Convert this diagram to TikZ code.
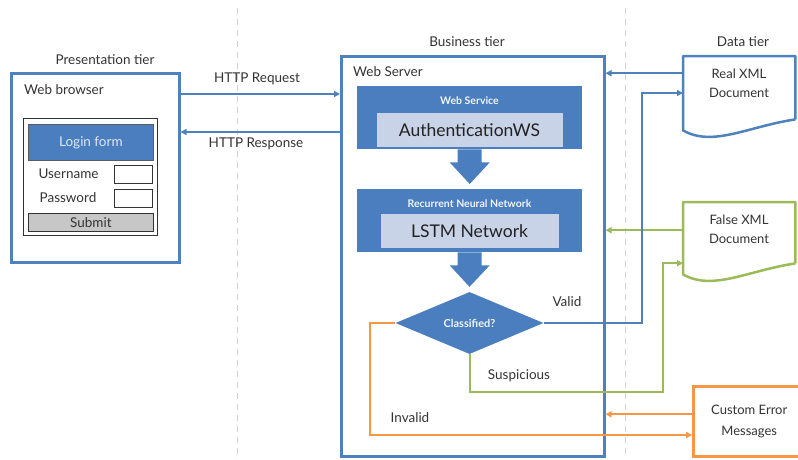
\documentclass[tikz,border=0pt]{standalone}
\usepackage{fontspec}
\setmainfont{Lato}
\usetikzlibrary{arrows.meta,shapes.geometric,calc}
\definecolor{oblue}{HTML}{4F81BD}
\definecolor{boxblue}{HTML}{4A7EBF}
\definecolor{paleblue}{HTML}{C8D3E8}
\definecolor{ogreen}{HTML}{9BBB59}
\definecolor{oorange}{HTML}{F79646}
\definecolor{txt}{HTML}{333333}
\definecolor{darktxt}{HTML}{222222}

% downward block arrow between two stacked nodes
\newcommand\blockdown[2]{%
  \fill[boxblue] ($(#1.south)+(-12,0)$) -- ($(#1.south)+(-12,13)$)
    -- ($(#1.south)+(-20,13)$) -- ($(#2.north)+(0,-5)$)
    -- ($(#1.south)+(20,13)$) -- ($(#1.south)+(12,13)$)
    -- ($(#1.south)+(12,0)$) -- cycle;}

% flowchart "document" outline drawn around a named node
\newcommand\docoutline[2]{%
  \draw[#2, line width=2.5pt, line join=round]
    ($(#1.south east)+(0,-11)$) -- (#1.north east) -- (#1.north west)
    -- (#1.south west) .. controls ($(#1.south west)+(30,17)$)
    and ($(#1.south west)+(65,-4)$) .. ($(#1.south east)+(0,-11)$);}

\begin{document}
\begin{tikzpicture}[x=1pt,y=-1pt,
  every node/.style={text=txt, font=\fontsize{13.5}{16}\selectfont},
  frame/.style={draw=oblue, line width=2.5pt, inner sep=0pt, anchor=north west},
  panel/.style={fill=boxblue, inner sep=0pt, anchor=north west},
  inner/.style={fill=paleblue, inner sep=0pt, text=darktxt,
    font=\fontsize{17.5}{20}\selectfont},
  caption/.style={text=white!92!boxblue, font=\fontsize{10.5}{12}\selectfont\bfseries},
  field/.style={draw=txt, line width=0.8pt, fill=white, inner sep=0pt, anchor=north west,
    minimum width=38, minimum height=18},
  tip/.style={-{Triangle[length=6pt,width=6pt]}},
  blueline/.style={draw=oblue, line width=2pt},
  greenline/.style={draw=ogreen, line width=2pt},
  orangeline/.style={draw=oorange, line width=2pt},
  tierline/.style={draw=black!18, line width=1pt, dash pattern=on 6pt off 5pt}]
\useasboundingbox (0,0) rectangle (798,459);

% tier separators
\draw[tierline] (237,8) -- (237,459);
\draw[tierline] (625,8) -- (625,459);

% tier titles
\node (ptier) at (105,60) {Presentation tier};
\node (btier) at (467,42) {Business tier};
\node (dtier) at (743,42) {Data tier};

% presentation tier: web browser with login form
\node[frame, minimum width=168, minimum height=189] (browser) at (10,72) {};
\node[anchor=west, inner sep=0pt] (browserlbl) at (24,90) {Web browser};
\node[draw=txt, line width=1pt, inner sep=0pt, anchor=north west,
  minimum width=134, minimum height=117] (form) at (23,118) {};
\node[panel, draw=txt!80, line width=0.8pt, minimum width=125, minimum height=36,
  text=paleblue!55!white] (login) at (28,124) {Login form};
\node (userlbl) at (68.5,174) {Username};
\node[field] (userbox) at (114,165) {};
\node (passlbl) at (68,198) {Password};
\node[field] (passbox) at (114,189) {};
\node[draw=txt, line width=0.8pt, fill=black!22, inner sep=0pt, anchor=north west,
  minimum width=125, minimum height=18] (submit) at (28,213) {Submit};

% business tier: web server
\node[frame, minimum width=263, minimum height=400] (server) at (340,55) {};
\node[anchor=west, inner sep=0pt] (serverlbl) at (353,72) {Web Server};

\node[panel, minimum width=225, minimum height=63] (ws) at (357,86) {};
\node[caption] (wslbl) at (469.5,101) {Web Service};
\node[inner, minimum width=186, minimum height=34] (auth) at (469.5,130) {AuthenticationWS};

\node[panel, minimum width=225, minimum height=63] (rnn) at (357,189) {};
\node[caption] (rnnlbl) at (469.5,204) {Recurrent Neural Network};
\node[inner, minimum width=178, minimum height=34] (lstm) at (469.5,231) {LSTM Network};

\node[diamond, fill=boxblue, inner sep=0pt, aspect=2.39, minimum width=148,
  minimum height=62] (dia) at (469.5,323) {};
\node[caption, font=\fontsize{11}{12}\selectfont\bfseries] (dialbl) at (dia) {Classified?};

\blockdown{ws}{rnn}
\blockdown{rnn}{dia}

% data tier documents
\node[inner sep=0pt, anchor=north west, minimum width=112, minimum height=74] (realdoc) at (683,56) {};
\node[align=center, font=\fontsize{13}{19}\selectfont] (realtxt) at (739,83) {Real XML\\Document};
\docoutline{realdoc}{oblue}

\node[inner sep=0pt, anchor=north west, minimum width=112, minimum height=72] (falsedoc) at (683,202) {};
\node[align=center, font=\fontsize{13}{19}\selectfont] (falsetxt) at (739,229) {False XML\\Document};
\docoutline{falsedoc}{ogreen}

\node[draw=oorange, line width=2.5pt, inner sep=0pt, anchor=north west,
  minimum width=112, minimum height=70, align=center,
  font=\fontsize{13}{21}\selectfont] (err) at (692,385) {Custom Error\\Messages};

% HTTP exchange
\coordinate (reqy) at (0,94);
\coordinate (resy) at (0,132);
\draw[blueline, tip] (browser.east |- reqy) -- (server.west |- reqy);
\draw[blueline, tip] (server.west |- resy) -- (browser.east |- resy);
\node (reqlbl) at (257,79) {HTTP Request};
\node (reslbl) at (256,144) {HTTP Response};

% documents feeding the server
\coordinate (realout) at ([yshift=20pt]realdoc.west);
\draw[blueline, tip] (realout) -- (server.east |- realout);
\coordinate (falseout) at ([yshift=8pt]falsedoc.west);
\draw[greenline, tip] (falseout) -- (server.east |- falseout);
\coordinate (errout) at ([yshift=7pt]err.west);
\draw[orangeline, tip] (errout) -- (server.east |- errout);

% classification outcomes
\coordinate (validturn) at (642,93);
\draw[blueline, tip] (dia.east) -| (validturn) -- (validturn -| realdoc.west);
\node (validlbl) at (567,302) {Valid};

\coordinate (susturn) at (663,392);
\coordinate (susin) at ([yshift=-25pt]falsedoc.west);
\draw[greenline, tip] (dia.south) |- (susturn) |- (susin);
\node (suslbl) at (519,376) {Suspicious};

\coordinate (invturn) at (370,435);
\draw[orangeline, tip] (dia.west) -| (invturn) -- (invturn -| err.west);
\node (invlbl) at (410,418) {Invalid};
\end{tikzpicture}
\end{document}
